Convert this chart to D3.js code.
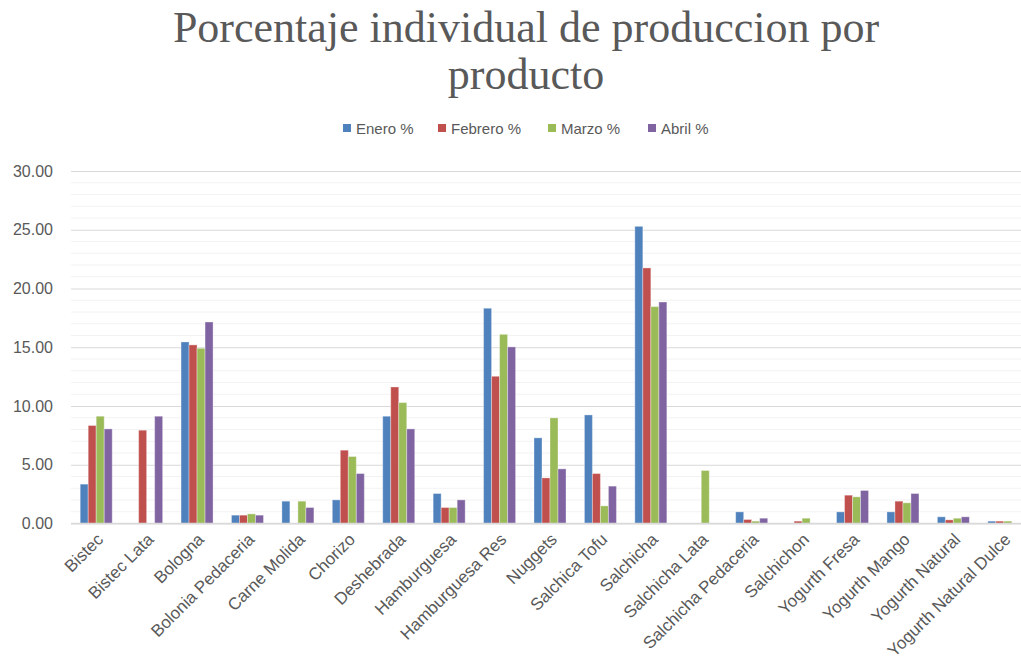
<!DOCTYPE html>
<html>
<head>
<meta charset="utf-8">
<script src="https://cdn.jsdelivr.net/npm/d3@7"></script>
<style>
  body { margin: 0; background: #fff; }
  svg { display: block; }
</style>
</head>
<body>
<div id="chart"></div>
<script>
// chart data
const categories = ['Bistec', 'Bistec Lata', 'Bologna', 'Bolonia Pedaceria', 'Carne Molida', 'Chorizo',
  'Deshebrada', 'Hamburguesa', 'Hamburguesa Res', 'Nuggets', 'Salchica Tofu', 'Salchicha',
  'Salchicha Lata', 'Salchicha Pedaceria', 'Salchichon', 'Yogurth Fresa', 'Yogurth Mango',
  'Yogurth Natural', 'Yogurth Natural Dulce'];
const seriesNames = ['Enero %', 'Febrero %', 'Marzo %', 'Abril %'];
const enero   = [3.35, 0,    15.45, 0.71, 1.90, 2.01, 9.13, 2.55, 18.32, 7.29, 9.24, 25.29, 0,    0.99, 0,    0.99, 0.99, 0.57, 0.20];
const febrero = [8.34, 7.94, 15.20, 0.71, 0,    6.24, 11.62, 1.36, 12.53, 3.88, 4.25, 21.75, 0,   0.34, 0.20, 2.41, 1.90, 0.31, 0.20];
const marzo   = [9.13, 0,    14.91, 0.82, 1.90, 5.70, 10.29, 1.36, 16.10, 8.99, 1.50, 18.46, 4.51, 0.20, 0.45, 2.27, 1.76, 0.45, 0.20];
const abril   = [8.05, 9.13, 17.15, 0.71, 1.36, 4.25, 8.05, 2.01, 15.03, 4.65, 3.18, 18.85, 0,    0.45, 0,    2.81, 2.55, 0.57, 0];
const yTicks = [0, 5, 10, 15, 20, 25, 30];
const colors = ['#4f81bd', '#c0504d', '#9bbb59', '#8064a2'];

const width = 1021;
const height = 665;
const seriesValues = [enero, febrero, marzo, abril];

const svg = d3.select('#chart')
  .append('svg')
  .attr('width', width)
  .attr('height', height);

// plot area runs a little past the right edge (cropped like the original)
const x = d3.scaleBand()
  .domain(categories)
  .range([71, 1029])
  .paddingInner(0.365)
  .paddingOuter(0.1825);

const x1 = d3.scaleBand()
  .domain(seriesNames)
  .range([0, x.bandwidth()]);

const y = d3.scaleLinear()
  .domain([0, 30])
  .range([523.5, 171]);

// minor gridlines every 1 unit
svg.append('g')
  .selectAll('line')
  .data(d3.range(0, 31).filter(v => v % 5 !== 0))
  .enter().append('line')
  .attr('x1', 71).attr('x2', 1029)
  .attr('y1', d => y(d)).attr('y2', d => y(d))
  .attr('stroke', '#f2f2f2')
  .attr('stroke-width', 1);

// major gridlines + y labels
svg.append('g')
  .call(d3.axisLeft(y).tickValues(yTicks).tickSize(-(1029 - 71)).tickFormat(d3.format('.2f')))
  .attr('transform', 'translate(71,0)')
  .call(g => g.select('.domain').remove())
  .call(g => g.selectAll('.tick line').attr('stroke', '#d9d9d9'))
  .call(g => g.selectAll('.tick text')
    .attr('x', -18)
    .attr('fill', '#595959')
    .style('font-family', 'Liberation Sans, Arial, sans-serif')
    .style('font-size', '16px'));

// bars
const groups = svg.append('g')
  .selectAll('g')
  .data(categories)
  .enter().append('g')
  .attr('transform', d => `translate(${x(d)},0)`);

groups.selectAll('rect')
  .data((d, i) => seriesNames.map((s, j) => ({ key: s, value: seriesValues[j][i], color: colors[j] })))
  .enter().append('rect')
  .filter(d => d.value > 0)
  .attr('x', d => x1(d.key))
  .attr('y', d => y(d.value))
  .attr('width', x1.bandwidth())
  .attr('height', d => y(0) - y(d.value))
  .attr('fill', d => d.color)
  .attr('stroke', '#ffffff')
  .attr('stroke-opacity', 0.35)
  .attr('stroke-width', 1);

// x axis line
svg.append('line')
  .attr('x1', 71).attr('x2', 1029)
  .attr('y1', y(0)).attr('y2', y(0))
  .attr('stroke', '#d9d9d9')
  .attr('stroke-width', 1.5);

// x labels, rotated
svg.append('g')
  .selectAll('text')
  .data(categories)
  .enter().append('text')
  .attr('transform', d => `translate(${x(d) + x.bandwidth() / 2 + 8},${y(0) + 17}) rotate(-45)`)
  .attr('text-anchor', 'end')
  .attr('fill', '#595959')
  .style('font-family', 'Liberation Sans, Arial, sans-serif')
  .style('font-size', '17px')
  .text(d => d);

// title
const title = svg.append('text')
  .attr('text-anchor', 'middle')
  .attr('fill', '#595959')
  .style('font-family', 'Liberation Serif, DejaVu Serif, serif')
  .style('font-size', '44px');
title.append('tspan').attr('x', 526).attr('y', 42).text('Porcentaje individual de produccion por');
title.append('tspan').attr('x', 526).attr('y', 89).text('producto');

// legend
const legendX = [343, 438, 548, 648];
const legend = svg.append('g')
  .selectAll('g')
  .data(seriesNames)
  .enter().append('g')
  .attr('transform', (d, i) => `translate(${legendX[i]},123)`);

legend.append('rect')
  .attr('width', 8)
  .attr('height', 8)
  .attr('y', 1)
  .attr('fill', (d, i) => colors[i]);

legend.append('text')
  .attr('x', 13)
  .attr('y', 11)
  .attr('fill', '#595959')
  .style('font-family', 'Liberation Sans, Arial, sans-serif')
  .style('font-size', '15px')
  .text(d => d);
</script>
</body>
</html>
